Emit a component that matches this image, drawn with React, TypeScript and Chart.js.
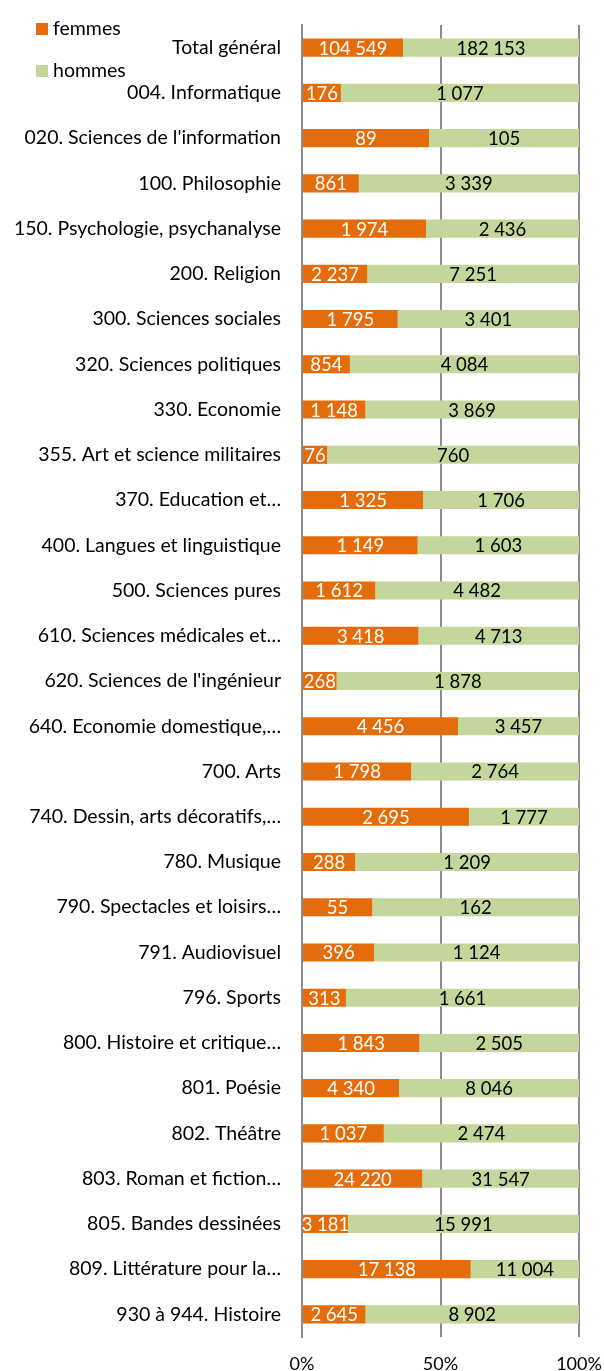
import React, { useEffect, useRef } from "react";
import { Chart, registerables } from "chart.js";

Chart.register(...registerables);

const categories = [
  "Total général",
  "004. Informatique",
  "020. Sciences de l'information",
  "100. Philosophie",
  "150. Psychologie, psychanalyse",
  "200. Religion",
  "300. Sciences sociales",
  "320. Sciences politiques",
  "330. Economie",
  "355. Art et science militaires",
  "370. Education et…",
  "400. Langues et linguistique",
  "500. Sciences pures",
  "610. Sciences médicales et…",
  "620. Sciences de l'ingénieur",
  "640. Economie domestique,…",
  "700. Arts",
  "740. Dessin, arts décoratifs,…",
  "780. Musique",
  "790. Spectacles et loisirs…",
  "791. Audiovisuel",
  "796. Sports",
  "800. Histoire et critique…",
  "801. Poésie",
  "802. Théâtre",
  "803. Roman et fiction…",
  "805. Bandes dessinées",
  "809. Littérature pour la…",
  "930 à 944. Histoire",
];

const femmes = [
  104549, 176, 89, 861, 1974, 2237, 1795, 854, 1148, 76, 1325, 1149, 1612, 3418,
  268, 4456, 1798, 2695, 288, 55, 396, 313, 1843, 4340, 1037, 24220, 3181, 17138, 2645,
];

const hommes = [
  182153, 1077, 105, 3339, 2436, 7251, 3401, 4084, 3869, 760, 1706, 1603, 4482, 4713,
  1878, 3457, 2764, 1777, 1209, 162, 1124, 1661, 2505, 8046, 2474, 31547, 15991, 11004, 8902,
];

const seriesNames = ["femmes", "hommes"];
const xTicks = [0, 50, 100];

const ORANGE = "#E46C0A";
const GREEN = "#C3D69B";
const GRID = "#8c8c8c";
const FONT = "Lato, 'Open Sans', sans-serif";

const fmt = (n: number) => String(n).replace(/\B(?=(\d{3})+(?!\d))/g, " ");

export default function App() {
  const ref = useRef<HTMLCanvasElement | null>(null);

  useEffect(() => {
    if (!ref.current) return;
    const raw = [femmes, hommes];
    const pct = raw.map((arr) =>
      arr.map((v, i) => (v / (femmes[i] + hommes[i])) * 100)
    );

    const labelPlugin = {
      id: "segLabels",
      afterDatasetsDraw(chart: any) {
        const ctx = chart.ctx;
        const area = chart.chartArea;
        ctx.save();
        ctx.beginPath();
        ctx.rect(area.left, area.top, area.right - area.left, area.bottom - area.top);
        ctx.clip();
        ctx.font = `18.5px ${FONT}`;
        ctx.textAlign = "center";
        ctx.textBaseline = "middle";
        chart.data.datasets.forEach((ds: any, di: number) => {
          const meta = chart.getDatasetMeta(di);
          ctx.fillStyle = di === 0 ? "#ffffff" : "#000000";
          meta.data.forEach((bar: any, i: number) => {
            const cx = (bar.x + bar.base) / 2;
            ctx.fillText(fmt(raw[di][i]), cx, bar.y + 1);
          });
        });
        ctx.restore();
      },
    };

    const legendPlugin = {
      id: "customLegend",
      afterDraw(chart: any) {
        const ctx = chart.ctx;
        ctx.save();
        ctx.font = `19.5px ${FONT}`;
        ctx.textBaseline = "middle";
        ctx.textAlign = "left";
        const items = [
          { name: seriesNames[0], color: ORANGE, y: 29 },
          { name: seriesNames[1], color: GREEN, y: 71 },
        ];
        items.forEach((it) => {
          ctx.fillStyle = it.color;
          ctx.fillRect(36, it.y - 6, 12, 12);
          ctx.fillStyle = "#000";
          ctx.fillText(it.name, 53, it.y);
        });
        ctx.restore();
      },
    };

    const chart = new Chart(ref.current, {
      type: "bar",
      data: {
        labels: categories,
        datasets: [
          {
            label: seriesNames[0],
            data: pct[0],
            backgroundColor: ORANGE,
            barPercentage: 0.4,
            categoryPercentage: 1,
          },
          {
            label: seriesNames[1],
            data: pct[1],
            backgroundColor: GREEN,
            barPercentage: 0.4,
            categoryPercentage: 1,
          },
        ],
      },
      options: {
        indexAxis: "y",
        animation: false,
        responsive: false,
        maintainAspectRatio: false,
        layout: { padding: { top: 25, right: 25, left: 0, bottom: 0 } },
        plugins: {
          legend: { display: false },
          tooltip: { enabled: false },
        },
        scales: {
          x: {
            stacked: true,
            min: 0,
            max: 100,
            afterBuildTicks: (scale: any) => {
              scale.ticks = xTicks.map((v) => ({ value: v }));
            },
            afterFit: (scale: any) => {
              scale.height = 34;
              scale.paddingLeft = 0;
              scale.paddingRight = 0;
            },
            ticks: {
              callback: (v: any) => v + "%",
              font: { family: FONT, size: 18 },
              color: "#000",
              padding: 16,
              maxRotation: 0,
            },
            grid: { color: GRID, lineWidth: 2, drawTicks: false },
            border: { display: false },
          },
          y: {
            stacked: true,
            afterFit: (scale: any) => {
              scale.width = 302;
              scale.paddingTop = 0;
              scale.paddingBottom = 0;
            },
            ticks: {
              font: { family: FONT, size: 19.5 },
              color: "#000",
              padding: 21,
              autoSkip: false,
            },
            grid: { display: false, drawTicks: false },
            border: { display: true, color: GRID, width: 2 },
          },
        },
      },
      plugins: [labelPlugin, legendPlugin],
    });
    return () => chart.destroy();
  }, []);

  return (
    <div style={{ position: "absolute", left: 0, top: 0, width: 604, height: 1371, background: "#fff" }}>
      <canvas ref={ref} width={604} height={1371} style={{ width: 604, height: 1371 }} />
    </div>
  );
}
